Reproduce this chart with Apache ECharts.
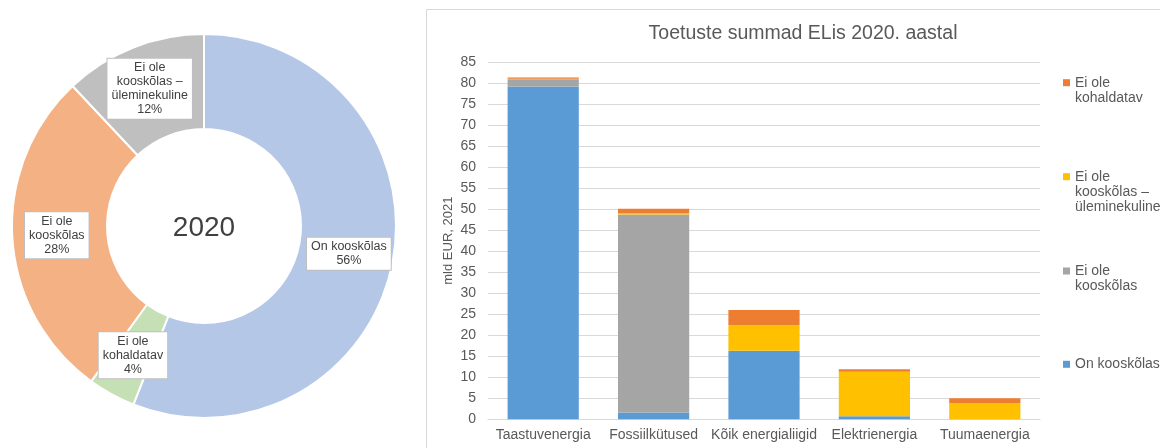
<!DOCTYPE html>
<html>
<head>
<meta charset="utf-8">
<script src="https://cdn.jsdelivr.net/npm/echarts@6/dist/echarts.min.js"></script>
<style>html,body{margin:0;padding:0;background:#fff}#c{width:1160px;height:448px}</style>
</head>
<body>
<div id="c"></div>
<script>
// ---- data ----
var categories = ['Taastuvenergia', 'Fossiilkütused', 'Kõik energialiigid', 'Elektrienergia', 'Tuumaenergia'];
var onKooskolas = [79.2, 1.6, 16.3, 0.7, 0];
var eiOleKooskolas = [1.7, 47.1, 0, 0, 0];
var eiOleKooskolasYlem = [0.1, 0.4, 6.1, 10.6, 3.9];
var eiOleKohaldatav = [0.3, 1.0, 3.6, 0.6, 1.1];

var donutNames = ['On kooskõlas', 'Ei ole kohaldatav', 'Ei ole kooskõlas', 'Ei ole kooskõlas – üleminekuline'];
var donutLabels = ['On kooskõlas', 'Ei ole\nkohaldatav', 'Ei ole\nkooskõlas', 'Ei ole\nkooskõlas –\nüleminekuline'];
var donutShares = [56, 4, 28, 12];
var donutYear = '2020';

var yTicks = {min: 0, max: 85, interval: 5};

var FONT = '"Liberation Sans", Arial, sans-serif';
var barColors = {on: '#5B9BD5', ei: '#A5A5A5', ylem: '#FFC000', kohal: '#ED7D31'};
var pieColors = ['#B4C7E7', '#C5E0B4', '#F4B183', '#BFBFBF'];

function legendFor(name, text, centerY) {
  var n = text.split('\n').length;
  var L = 15;
  var pad = '';
  for (var i = 1; i < n; i++) pad += ' \n';
  var H = (2 * n - 1) * L;
  return {
    data: [{name: name}],
    orient: 'vertical',
    left: 1063,
    top: centerY - H / 2,
    padding: 0,
    itemWidth: 7,
    itemHeight: 7,
    icon: 'rect',
    selectedMode: false,
    formatter: function () { return pad + text; },
    textStyle: {fontFamily: FONT, fontSize: 14, lineHeight: L, color: '#595959'}
  };
}

var chart = echarts.init(document.getElementById('c'), null, {renderer: 'canvas'});
chart.setOption({
  animation: false,
  backgroundColor: '#fff',
  textStyle: {fontFamily: FONT},
  title: {
    text: 'Toetuste summad ELis 2020. aastal',
    left: 798, top: 19, textAlign: 'center',
    textStyle: {fontFamily: FONT, fontSize: 19.5, fontWeight: 'normal', color: '#595959'}
  },
  graphic: [
    {type: 'rect', z: -10, silent: true, shape: {x: 426.5, y: 9.5, width: 900, height: 600},
     style: {fill: 'none', stroke: '#d9d9d9', lineWidth: 1}},
    {type: 'text', x: 204, y: 228, silent: true,
     style: {text: donutYear, fontFamily: FONT, fontSize: 28, fill: '#404040', textAlign: 'center', textVerticalAlign: 'middle'}}
  ],
  legend: [
    legendFor('Ei ole kohaldatav', 'Ei ole\nkohaldatav', 82.7),
    legendFor('Ei ole kooskõlas – üleminekuline', 'Ei ole\nkooskõlas –\nüleminekuline', 176.7),
    legendFor('Ei ole kooskõlas', 'Ei ole\nkooskõlas', 271),
    legendFor('On kooskõlas', 'On kooskõlas', 364.3)
  ],
  grid: {left: 488, right: 120, top: 62, bottom: 28.7, containLabel: false},
  xAxis: {
    type: 'category', data: categories,
    axisTick: {show: false},
    axisLine: {lineStyle: {color: '#d9d9d9', width: 1}},
    axisLabel: {fontFamily: FONT, fontSize: 14, color: '#595959', margin: 9, interval: 0, hideOverlap: false}
  },
  yAxis: {
    type: 'value', min: yTicks.min, max: yTicks.max, interval: yTicks.interval,
    name: 'mld EUR, 2021', nameLocation: 'middle', nameGap: 33, nameRotate: 90,
    nameTextStyle: {fontFamily: FONT, fontSize: 13, color: '#595959'},
    axisLine: {show: false}, axisTick: {show: false},
    splitLine: {lineStyle: {color: '#d9d9d9', width: 1}},
    axisLabel: {fontFamily: FONT, fontSize: 14, color: '#595959', margin: 12}
  },
  series: [
    {name: 'On kooskõlas', type: 'bar', stack: 's', data: onKooskolas, barWidth: '64.5%', itemStyle: {color: barColors.on}},
    {name: 'Ei ole kooskõlas', type: 'bar', stack: 's', data: eiOleKooskolas, itemStyle: {color: barColors.ei}},
    {name: 'Ei ole kooskõlas – üleminekuline', type: 'bar', stack: 's', data: eiOleKooskolasYlem, itemStyle: {color: barColors.ylem}},
    {name: 'Ei ole kohaldatav', type: 'bar', stack: 's', data: eiOleKohaldatav, itemStyle: {color: barColors.kohal}},
    {
      name: 'Toetused 2020', type: 'pie', center: [204, 226], radius: [97, 192],
      startAngle: 90, clockwise: true, silent: true,
      itemStyle: {borderColor: '#fff', borderWidth: 2},
      label: {
        show: true, position: 'inside',
        formatter: function (p) { return donutLabels[p.dataIndex] + '\n' + p.value + '%'; },
        fontFamily: FONT, fontSize: 12.5, lineHeight: 14, color: '#404040',
        backgroundColor: '#fff', borderColor: '#bfbfbf', borderWidth: 1, padding: [2, 4]
      },
      labelLine: {show: false},
      data: donutNames.map(function (n, i) { return {name: n, value: donutShares[i], itemStyle: {color: pieColors[i]}}; })
    }
  ]
});
</script>
</body>
</html>
